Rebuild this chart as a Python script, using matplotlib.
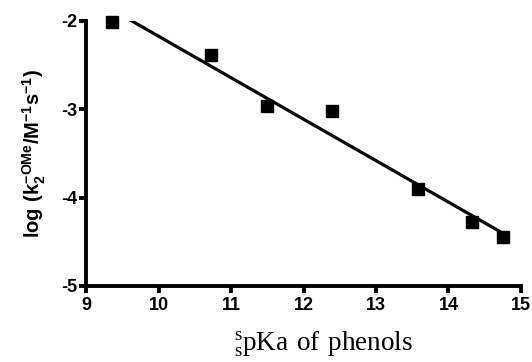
import numpy as np
import matplotlib
matplotlib.use("Agg")
import matplotlib.pyplot as plt

# data
pka = [9.35, 10.72, 11.49, 12.40, 13.58, 14.32, 14.76]
logk = [-2.01, -2.39, -2.96, -3.02, -3.90, -4.28, -4.45]
xticks = [9, 10, 11, 12, 13, 14, 15]
yticks = [-5, -4, -3, -2]

plt.rcParams['font.family'] = 'Liberation Sans'
plt.rcParams['mathtext.fontset'] = 'custom'
plt.rcParams['mathtext.rm'] = 'Liberation Serif'
plt.rcParams['mathtext.bf'] = 'Liberation Sans:bold'

fig = plt.figure(figsize=(5.32, 3.62), dpi=100)
ax = fig.add_axes([0.162, 0.21, 0.817, 0.732])

# linear fit
slope, icpt = np.polyfit(pka, logk, 1)
xf = np.array([9.6, 14.72])
ax.plot(xf, slope * xf + icpt, color='black', lw=2.3, solid_capstyle='butt')
ax.plot(pka, logk, 's', color='black', ms=8.5, clip_on=False)

ax.set_xlim(9, 15)
ax.set_ylim(-5, -2)
ax.set_xticks(xticks)
ax.set_yticks(yticks)
ax.set_xticklabels([str(t) for t in xticks], fontweight='bold', fontsize=13)
ax.set_yticklabels([str(t) for t in yticks], fontweight='bold', fontsize=13)

for s in ['top', 'right']:
    ax.spines[s].set_visible(False)
for s in ['left', 'bottom']:
    ax.spines[s].set_linewidth(2.8)
ax.tick_params(width=2.8, length=5, pad=3)
ax.tick_params(axis='y', pad=1)

ax.set_ylabel(r"$\mathbf{log\ (k_{2}^{-OMe}/M^{-1}s^{-1})}$", fontsize=14.5, labelpad=10)
ax.set_xlabel(r"$\mathrm{{}^{s}_{s}pKa\ of\ phenols}$", fontsize=19.5)
ax.xaxis.set_label_coords(0.545, -0.165)

fig.savefig("out.png", dpi=100)
